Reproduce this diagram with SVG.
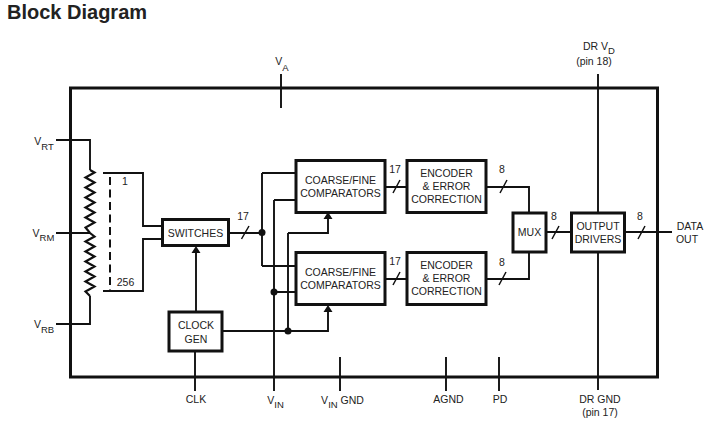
<svg xmlns="http://www.w3.org/2000/svg" width="711" height="422" viewBox="0 0 711 422">
<style>
text{font-family:"Liberation Sans",Arial,sans-serif;font-size:10.5px;fill:#222;text-anchor:middle}
.t{font-size:20px;font-weight:bold;text-anchor:start}
.sub{font-size:9.500px}
.b{fill:#fff;stroke:#111;stroke-width:3}
.l{fill:none;stroke:#111;stroke-width:1.9}
.o{fill:none;stroke:#111;stroke-width:3}
.d{fill:#111}
.a{fill:#111}
</style>
<rect width="711" height="422" fill="#fff"/>
<text class="t" x="7" y="19">Block Diagram</text>
<g id="chip"><rect class="o" x="70.500" y="88" width="587" height="289"/></g>
<g id="connectors">
<path class="l" d="M281 74V108M598 74V212M598 252V390M56 140H90V170M56 233H90M56 324H90V296"/>
<path class="l" style="stroke-width:2.200" d="M90 170L94.500 172.500L85.500 177.500L94.500 182.500L85.500 187.500L94.500 192.500L85.500 197.500L94.500 202.500L85.500 207.500L94.500 212.500L85.500 217.500L94.500 222.500L85.500 227.500L90 233L94.500 236.500L85.500 241.500L94.500 246.500L85.500 251.500L94.500 256.500L85.500 261.500L94.500 266.500L85.500 271.500L94.500 276.500L85.500 281.500L94.500 286.500L85.500 291.500L90 296"/>
<path class="l" d="M103 173H143V226H162M103 291H143V239H162"/>
<path class="l" stroke-dasharray="8 4.500" style="stroke-width:2" d="M110 177V290"/>
<path class="l" d="M229 233H262M262 173V266M262 173H296M262 266H296M274 200V391M274 200H296M274 292H296M288 233V331M288 233H328V218M222 331H328V311"/>
<path class="l" d="M196 311V252"/>
<path class="l" d="M385 187H407M385 279H407M486 187H529V213M486 279H529V252M546 232H571M625 232H672"/>
<path class="l" d="M195 351V391M340 357V391M446 357V391M499 357V391"/>
<path class="l" style="stroke-width:1.500" d="M241.500 239L249 226M393 193L400 180M393 285L400 272M500 193L507 180M499 285L506 272M552 239L559 226M638 239L645 226"/>
<path class="a" d="M196 246L191.500 253H200.500ZM328 212L323.500 219H332.500ZM328 305L323.500 312H332.500Z"/>
<circle class="d" cx="262" cy="232.500" r="3.500"/><circle class="d" cx="274" cy="292" r="3.500"/><circle class="d" cx="288" cy="331" r="3.500"/>
</g>
<g id="switches"><rect class="b" x="162.500" y="219.500" width="66" height="26"/><text x="195.500" y="236.500">SWITCHES</text></g>
<g id="clock-gen"><rect class="b" x="169" y="312" width="53" height="39"/><text x="196" y="328.500">CLOCK</text><text x="196" y="342.500">GEN</text></g>
<g id="comparators-top"><rect class="b" x="296" y="160.500" width="89" height="52"/><text x="340.500" y="184">COARSE/FINE</text><text x="340.500" y="197">COMPARATORS</text></g>
<g id="comparators-bottom"><rect class="b" x="296" y="252.500" width="89" height="52"/><text x="340.500" y="276">COARSE/FINE</text><text x="340.500" y="289">COMPARATORS</text></g>
<g id="encoder-top"><rect class="b" x="407" y="160.500" width="79" height="52"/><text x="446.500" y="177">ENCODER</text><text x="446.500" y="190">&amp; ERROR</text><text x="446.500" y="203">CORRECTION</text></g>
<g id="encoder-bottom"><rect class="b" x="407" y="252.500" width="79" height="52"/><text x="446.500" y="269">ENCODER</text><text x="446.500" y="282">&amp; ERROR</text><text x="446.500" y="295">CORRECTION</text></g>
<g id="mux"><rect class="b" x="513" y="213" width="33" height="39"/><text x="529.500" y="236">MUX</text></g>
<g id="output-drivers"><rect class="b" x="571.500" y="213" width="53" height="39"/><text x="598" y="230">OUTPUT</text><text x="598" y="243">DRIVERS</text></g>
<g id="labels">
<text x="282" y="65">V<tspan class="sub" dy="5.500">A</tspan></text>
<text x="599" y="50">DR V<tspan class="sub" dy="4">D</tspan></text>
<text x="594" y="65">(pin 18)</text>
<text x="44" y="145">V<tspan class="sub" dy="4.500">RT</tspan></text>
<text x="43.500" y="237">V<tspan class="sub" dy="4">RM</tspan></text>
<text x="44" y="328">V<tspan class="sub" dy="4.500">RB</tspan></text>
<text x="125" y="185">1</text>
<text x="125.500" y="286">256</text>
<text x="243" y="220">17</text><text x="395" y="173">17</text><text x="395" y="265">17</text>
<text x="502" y="173">8</text><text x="502" y="266">8</text><text x="554" y="220">8</text><text x="640" y="220">8</text>
<text x="690" y="230">DATA</text><text x="687" y="243">OUT</text>
<text x="196" y="403">CLK</text>
<text x="275.500" y="404">V<tspan class="sub" dy="4">IN</tspan></text>
<text x="342.500" y="404">V<tspan class="sub" dy="4">IN</tspan><tspan dy="-4"> GND</tspan></text>
<text x="448.500" y="403">AGND</text>
<text x="500" y="403">PD</text>
<text x="600" y="403">DR GND</text>
<text x="600" y="416">(pin 17)</text>
</g>
</svg>
